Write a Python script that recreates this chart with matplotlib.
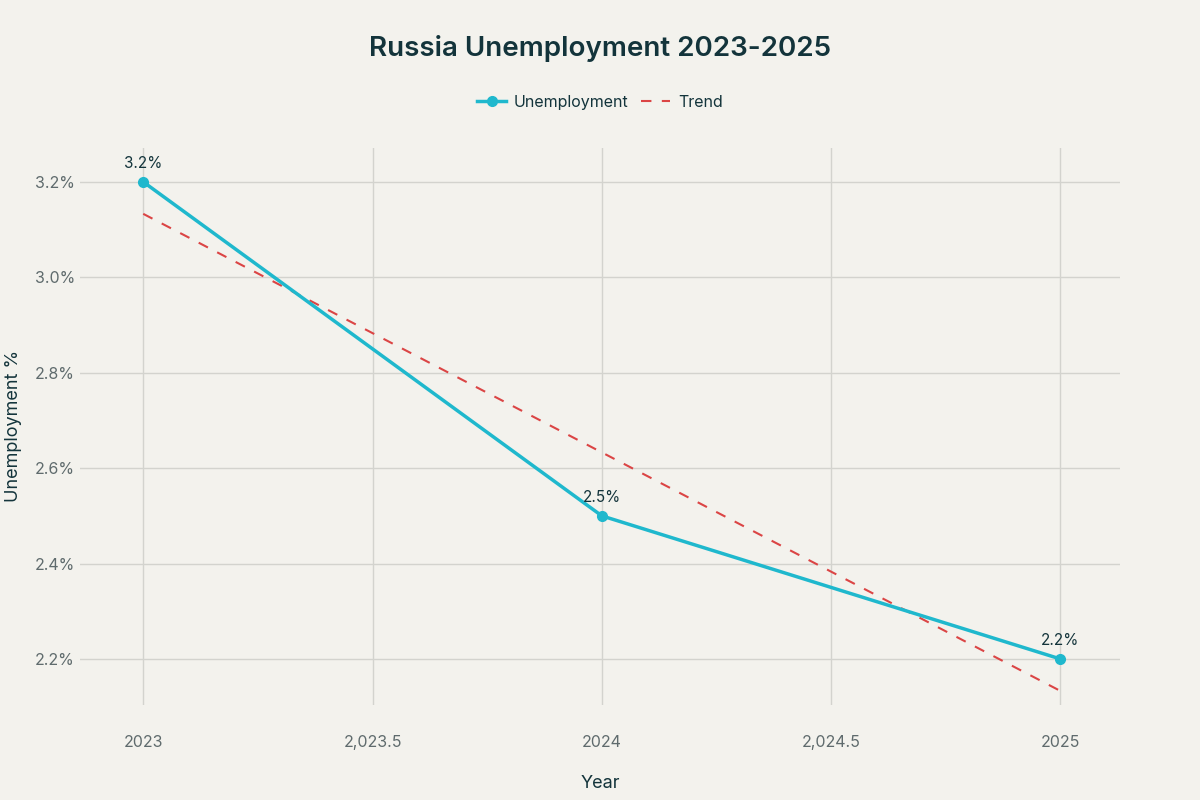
import matplotlib.pyplot as plt
from matplotlib.ticker import FixedLocator, FixedFormatter

plt.rcParams['font.family'] = ['Inter', 'DejaVu Sans']

# data
years = [2023, 2024, 2025]
unemployment = [3.2, 2.5, 2.2]
trend = [3.133, 2.633, 2.133]
point_labels = ["3.2%", "2.5%", "2.2%"]

xticks = [2023, 2023.5, 2024, 2024.5, 2025]
xtick_labels = ["2023", "2,023.5", "2024", "2,024.5", "2025"]
yticks = [2.2, 2.4, 2.6, 2.8, 3.0, 3.2]
ytick_labels = ["2.2%", "2.4%", "2.6%", "2.8%", "3.0%", "3.2%"]

bg = "#f3f2ed"
dark = "#13343b"
grey = "#5f6b6d"

fig = plt.figure(figsize=(12, 8), dpi=100, facecolor=bg)
ax = fig.add_axes([0.067, 0.119, 0.866, 0.696])
ax.set_facecolor(bg)

ax.plot(years, unemployment, color="#1fb8cd", lw=2.5, marker="o", ms=7,
        label="Unemployment", zorder=3)
ax.plot(years, trend, color="#db4545", lw=1.5, ls=(0, (5, 5)), label="Trend", zorder=2)

for x, y, t in zip(years, unemployment, point_labels):
    ax.annotate(t, (x, y), xytext=(0, 8), textcoords="offset points",
                ha="center", va="bottom", fontsize=11, color=dark)

ax.set_xlim(2022.863, 2025.129)
ax.set_ylim(2.104, 3.271)
ax.xaxis.set_major_locator(FixedLocator(xticks))
ax.xaxis.set_major_formatter(FixedFormatter(xtick_labels))
ax.yaxis.set_major_locator(FixedLocator(yticks))
ax.yaxis.set_major_formatter(FixedFormatter(ytick_labels))
ax.tick_params(length=0, labelsize=11.5, labelcolor=grey)
ax.tick_params(axis="y", pad=4)
ax.tick_params(axis="x", pad=22)
ax.grid(True, color="#d3d3ce", lw=1)
for s in ax.spines.values():
    s.set_visible(False)

ax.set_xlabel("Year", fontsize=13, color=dark, labelpad=18)
ax.set_ylabel("Unemployment %", fontsize=13, color=dark, labelpad=9)

fig.text(0.5, 0.94, "Russia Unemployment 2023-2025", ha="center", va="center",
         fontsize=20, fontweight="semibold", color=dark)
fig.legend(loc="center", bbox_to_anchor=(0.5, 0.872), ncol=2, frameon=False,
           fontsize=11.5, handlelength=1.8, handletextpad=0.5,
           columnspacing=0.8, labelcolor=dark)

fig.savefig("out.png", dpi=100, facecolor=bg)
